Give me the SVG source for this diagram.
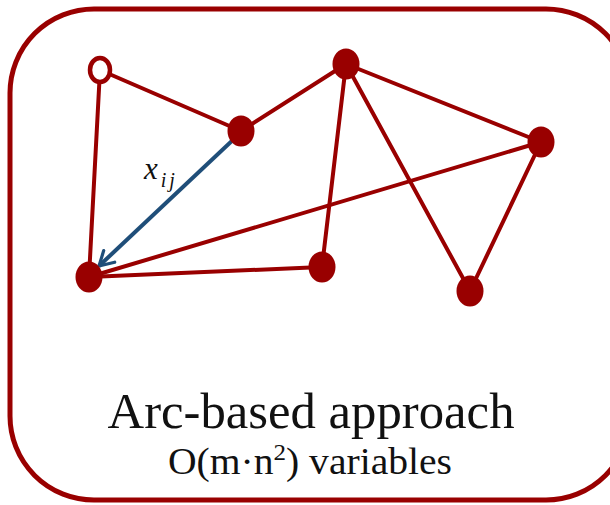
<svg xmlns="http://www.w3.org/2000/svg" width="610" height="505" viewBox="0 0 610 505">
<style>
.e{stroke:#990000;stroke-width:4;fill:none;stroke-linecap:round}
.n{fill:#990000}
.t{font-family:"Liberation Serif",serif;fill:#111}
</style>
<defs>
<marker id="ah" viewBox="0 0 10 10" refX="8" refY="5" markerWidth="5" markerHeight="5" orient="auto" markerUnits="strokeWidth">
<path d="M1,1 L8,5 L1,9" fill="none" stroke="#1F4E79" stroke-width="1.6" stroke-linecap="round" stroke-linejoin="round"/>
</marker>
</defs>
<rect x="10" y="9" width="620" height="491" rx="84" ry="84" fill="#fff" stroke="#990000" stroke-width="5"/>
<g id="connectors">
<line class="e" x1="100" y1="70" x2="241" y2="131"/>
<line class="e" x1="241" y1="131" x2="346" y2="64"/>
<line class="e" x1="100" y1="70" x2="89" y2="277"/>
<line class="e" x1="89" y1="277" x2="322" y2="267"/>
<line class="e" x1="322" y1="267" x2="346" y2="64"/>
<line class="e" x1="346" y1="64" x2="541" y2="142"/>
<line class="e" x1="346" y1="64" x2="470" y2="291"/>
<line class="e" x1="541" y1="142" x2="470" y2="291"/>
<line class="e" x1="89" y1="277" x2="541" y2="142"/>
<line x1="235" y1="138" x2="99" y2="266" stroke="#1F4E79" stroke-width="4" marker-end="url(#ah)"/>
</g>
<g id="n0"><ellipse cx="100" cy="70" rx="10" ry="12" fill="#fff" stroke="#990000" stroke-width="4.5"/></g>
<g id="n1"><ellipse class="n" cx="241" cy="131" rx="13.5" ry="15.5"/></g>
<g id="n2"><ellipse class="n" cx="346" cy="64" rx="13.5" ry="15.5"/></g>
<g id="n3"><ellipse class="n" cx="541" cy="142" rx="13.5" ry="15.5"/></g>
<g id="n4"><ellipse class="n" cx="89" cy="277" rx="13.5" ry="15.5"/></g>
<g id="n5"><ellipse class="n" cx="322" cy="267" rx="13.5" ry="15.5"/></g>
<g id="n6"><ellipse class="n" cx="470" cy="291" rx="13.5" ry="15.5"/></g>
<g id="label">
<text class="t" x="144" y="179" font-size="31" font-style="italic">x<tspan font-size="20" dx="3" dy="8" letter-spacing="3">ij</tspan></text>
</g>
<text class="t" x="311" y="428" font-size="51" text-anchor="middle" textLength="407" lengthAdjust="spacingAndGlyphs">Arc-based approach</text>
<text class="t" x="310" y="474" font-size="38" text-anchor="middle" textLength="284" lengthAdjust="spacingAndGlyphs">O(m·n<tspan font-size="24" dy="-14">2</tspan><tspan dy="14">) variables</tspan></text>
</svg>
